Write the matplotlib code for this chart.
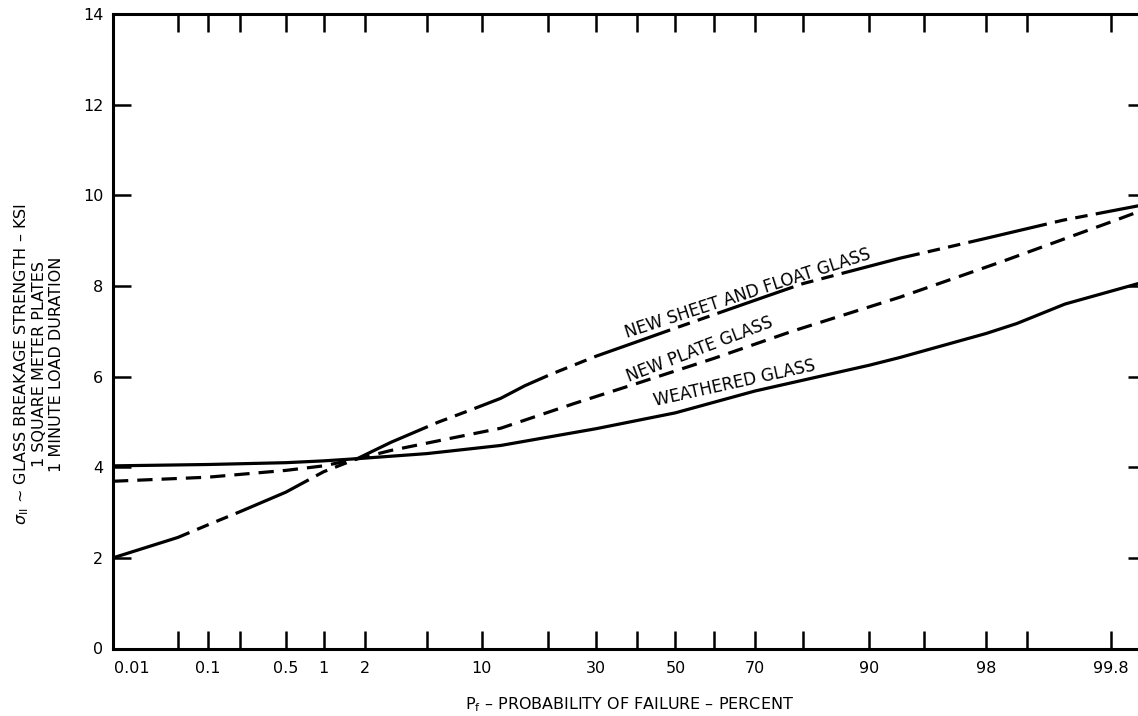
import numpy as np
import matplotlib
matplotlib.use("Agg")
import matplotlib.pyplot as plt
from matplotlib.transforms import ScaledTranslation
from statistics import NormalDist

# probability of failure (percent) vs breakage strength (ksi)
sheet_p = [0.01, 0.05, 0.1, 0.2, 0.5, 1, 1.8, 3, 5.8, 9, 12.4, 16, 20.5, 30, 41, 50, 72, 80, 93.1, 98, 99.48, 99.907]
sheet_s = [2.0, 2.45, 2.73, 3.02, 3.45, 3.9, 4.2, 4.55, 4.99, 5.28, 5.52, 5.8, 6.05, 6.45, 6.8, 7.07, 7.75, 8.05, 8.61, 9.05, 9.45, 9.8]

plate_p = [0.01, 0.1, 0.5, 1, 1.8, 3, 6.9, 12.4, 25, 40, 60, 78, 93.1, 98.5, 99.82, 99.907]
plate_s = [3.69, 3.78, 3.93, 4.03, 4.19, 4.37, 4.64, 4.86, 5.4, 5.85, 6.4, 7.0, 7.75, 8.55, 9.45, 9.7]

weath_p = [0.01, 0.1, 0.5, 1, 1.8, 5, 12.4, 30, 50, 70, 90, 93.1, 98, 98.8, 99.5, 99.907]
weath_s = [4.03, 4.06, 4.1, 4.14, 4.19, 4.3, 4.48, 4.85, 5.2, 5.68, 6.25, 6.42, 6.95, 7.17, 7.6, 8.1]

tick_p = [0.05, 0.1, 0.2, 0.5, 1, 2, 5, 10, 20, 30, 40, 50, 60, 70, 80, 90, 95, 98, 99, 99.8]
label_p = [0.01, 0.1, 0.5, 1, 2, 10, 30, 50, 70, 90, 98, 99.8]
label_txt = ['0.01', '0.1', '0.5', '1', '2', '10', '30', '50', '70', '90', '98', '99.8']
y_ticks = [0, 2, 4, 6, 8, 10, 12, 14]

nd = NormalDist()


def fwd(p):
    p = np.clip(np.asarray(p, dtype=float), 1e-7, 100 - 1e-7)
    return np.vectorize(nd.inv_cdf, otypes=[float])(p / 100.0)


def inv(z):
    return np.vectorize(nd.cdf, otypes=[float])(np.asarray(z, dtype=float)) * 100.0


plt.rcParams['font.family'] = ['DejaVu Sans']
plt.rcParams['lines.scale_dashes'] = False

fig = plt.figure(figsize=(11.38, 7.16), dpi=100)
ax = fig.add_axes([113 / 1138, 67.5 / 716, 1033 / 1138, 634.5 / 716])
ax.set_xscale('function', functions=(fwd, inv))
ax.set_xlim(0.01, 99.907)
ax.set_ylim(0, 14)

lw = 2.3
ax.plot(weath_p, weath_s, color='black', lw=lw, solid_capstyle='round')
ax.plot(plate_p, plate_s, color='black', lw=lw, dashes=(11, 6.5))
ax.plot(sheet_p, sheet_s, color='black', lw=lw, dashes=(58, 6, 9, 6, 9, 6))

for s in ax.spines.values():
    s.set_linewidth(2.2)

# x ticks: all marks, labels only on some
all_p = sorted(set(tick_p) | set(label_p))
ax.set_xticks(all_p)
ax.set_xticklabels([label_txt[label_p.index(p)] if p in label_p else '' for p in all_p])
ax.xaxis.set_minor_locator(matplotlib.ticker.NullLocator())
ax.tick_params(axis='x', which='major', direction='in', length=13, width=1.8,
               top=True, bottom=True, labelsize=11.5, pad=9)
ax.tick_params(axis='y', direction='in', length=13, width=1.8,
               left=True, right=True, labelsize=11.5, pad=7)
ax.set_yticks(y_ticks)
ax.set_yticklabels([str(v) for v in y_ticks])
for lab in ax.get_xticklabels():
    if lab.get_text() == '0.01':
        lab.set_transform(lab.get_transform() + ScaledTranslation(0.19, 0, fig.dpi_scale_trans))

ax.text(0.5, -0.073, r'P$_{\mathregular{f}}$ – PROBABILITY OF FAILURE – PERCENT',
        transform=ax.transAxes, ha='center', va='top', fontsize=11.5)

fig.text(38 / 1138, 1 - 364 / 716,
         r'$\sigma_{\mathregular{II}}$ ~ GLASS BREAKAGE STRENGTH – KSI' '\n'
         '1 SQUARE METER PLATES\n1 MINUTE LOAD DURATION',
         rotation=90, ha='center', va='center', multialignment='center',
         fontsize=11.5, linespacing=1.15)

# curve labels
ax.annotate('NEW SHEET AND FLOAT GLASS', xy=(0, 0), xycoords='figure pixels',
            xytext=(748, 716 - 293), textcoords='figure pixels',
            rotation=18, ha='center', va='center', fontsize=12)
ax.annotate('NEW PLATE GLASS', xy=(0, 0), xycoords='figure pixels',
            xytext=(700, 716 - 350), textcoords='figure pixels',
            rotation=21, ha='center', va='center', fontsize=12)
ax.annotate('WEATHERED GLASS', xy=(0, 0), xycoords='figure pixels',
            xytext=(735, 716 - 383), textcoords='figure pixels',
            rotation=12.5, ha='center', va='center', fontsize=12)

fig.savefig('out.png', dpi=100)
